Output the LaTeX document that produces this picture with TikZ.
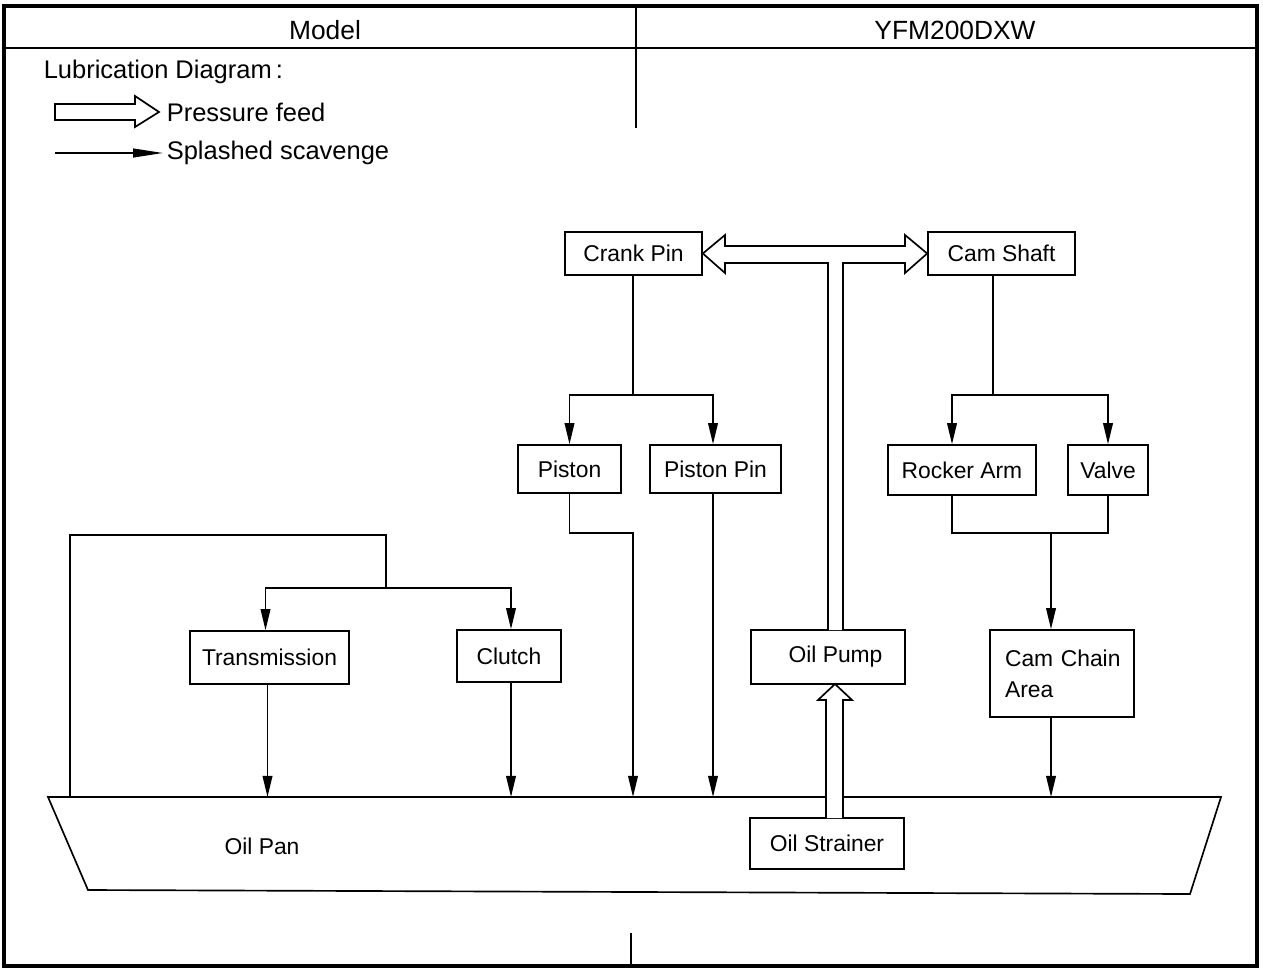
\documentclass[tikz,border=0pt]{standalone}
\usepackage{fontspec}
\setmainfont{Liberation Sans}
\usetikzlibrary{arrows.meta}
\begin{document}
\begin{tikzpicture}[x=0.02cm,y=-0.02cm,
  line width=0.95pt, line join=miter,
  box/.style={draw, rectangle, fill=white, inner sep=0pt, font=\fontsize{13}{15.6}\selectfont},
  arr/.style={-{Triangle[length=12pt,width=5.5pt]}},
  legarr/.style={-{Triangle[length=17pt,width=5pt]}},
  hollow/.style={draw, fill=white, line join=miter},
  head/.style={inner sep=0pt, font=\fontsize{15}{18}\selectfont},
  legend/.style={inner sep=0pt, anchor=west, font=\fontsize{14.5}{17}\selectfont}]
\useasboundingbox (0,0) rectangle (1263,970);

% frame and header
\draw[line width=1.8pt] (4,6) rectangle (1257,966);
\draw (4,48) -- (1257,48);
\draw (636,6) -- (636,128);
\draw (631,933) -- (631,966);
\node[head] (model) at (325,30) {Model};
\node[head] (ymodel) at (955,30) {YFM200DXW};

% legend
\node[legend] (title) at (43,72) {Lubrication Diagram\,:};
\node[legend] (lgp) at (166,112) {Pressure feed};
\node[legend] (lgs) at (166,153) {Splashed scavenge};
\draw[hollow] (55,104) -- (135,104) -- (135,96) -- (159,112) -- (135,127) -- (135,120) -- (55,120) -- cycle;
\coordinate (lgs0) at (55,153);
\draw[legarr] (lgs0) -- ([xshift=-0.06cm]lgs.west);

% oil pan
\draw (48,797) -- (1221,797) -- (1190,894) -- (88,890) -- cycle;
\node[inner sep=0pt, font=\fontsize{13}{15.6}\selectfont] (pan) at (262,846) {Oil Pan};
\coordinate (pantop) at (0,797);

% component boxes
\node[box, minimum width=2.74cm, minimum height=0.86cm] (crank) at (633.5,253.5) {Crank Pin};
\node[box, minimum width=2.94cm, minimum height=0.86cm] (cam) at (1001.5,253.5) {Cam Shaft};
\node[box, minimum width=2.06cm, minimum height=0.96cm] (piston) at (569.5,469) {Piston};
\node[box, minimum width=2.62cm, minimum height=0.96cm] (pistonpin) at (715.5,469) {Piston Pin};
\node[box, minimum width=2.96cm, minimum height=1.0cm] (rocker) at (962,470) {Rocker Arm};
\node[box, minimum width=1.6cm, minimum height=1.0cm] (valve) at (1108,470) {Valve};
\node[box, minimum width=3.18cm, minimum height=1.06cm] (trans) at (269.5,657.5) {Transmission};
\node[box, minimum width=2.08cm, minimum height=1.04cm] (clutch) at (509,656) {Clutch};
\node[box, minimum width=3.08cm, minimum height=1.08cm] (pump) at (828,657) {\hspace*{0.3cm}Oil Pump};
\node[box, minimum height=1.74cm, inner xsep=0.3cm, text width=2.28cm, align=left,
      font=\fontsize{13}{17.5}\selectfont] (camchain) at (1062,673.5) {\mbox{Cam Chain}\\Area};
\node[box, minimum width=3.08cm, minimum height=1.02cm] (strainer) at (827,843.5) {Oil Strainer};

% pressure feed: strainer -> pump -> crank pin / cam shaft
\draw[hollow] (826,818) -- (826,700) -- (818,700) -- (835,684) -- (852,700) -- (843,700) -- (843,818);
\draw[hollow] (828,630) -- (828,263) -- (725,263) -- (725,273) -- (crank.east) -- (725,235) -- (725,246)
  -- (905,246) -- (905,235) -- (cam.west) -- (905,273) -- (905,263) -- (843,263) -- (843,630);

% crank pin -> piston, piston pin
\coordinate (cj) at (633,395);
\draw (crank.south -| cj) -- (cj);
\draw[arr] (cj) -| (piston.north);
\draw[arr] (cj) -| ([xshift=-0.05cm]pistonpin.north);

% cam shaft -> rocker arm, valve
\coordinate (sj) at (993,395);
\draw (cam.south -| sj) -- (sj);
\draw[arr] (sj) -| ([xshift=-0.2cm]rocker.north);
\draw[arr] (sj) -| (valve.north);

% piston, piston pin -> oil pan
\coordinate (pj) at (633,533);
\draw[arr] (piston.south) |- (pj) -- (pj |- pantop);
\draw[arr] ([xshift=-0.05cm]pistonpin.south) -- ([xshift=-0.05cm]pistonpin.south |- pantop);

% rocker arm, valve -> cam chain area -> oil pan
\coordinate (vj) at (1051,533);
\draw ([xshift=-0.2cm]rocker.south) |- (vj) -| (valve.south);
\draw[arr] (vj) -- (camchain.north -| vj);
\draw[arr] (camchain.south -| vj) -- (vj |- pantop);

% oil pan -> transmission, clutch -> oil pan
\coordinate (lp) at (70,797);
\coordinate (lt) at (386,535);
\coordinate (lj) at (386,588);
\draw (lp) |- (lt) -- (lj);
\draw[arr] (lj) -| ([xshift=-0.08cm]trans.north);
\draw[arr] (lj) -| ([xshift=0.04cm]clutch.north);
\draw[arr] ([xshift=-0.04cm]trans.south) -- ([xshift=-0.04cm]trans.south |- pantop);
\draw[arr] ([xshift=0.04cm]clutch.south) -- ([xshift=0.04cm]clutch.south |- pantop);
\end{tikzpicture}
\end{document}
